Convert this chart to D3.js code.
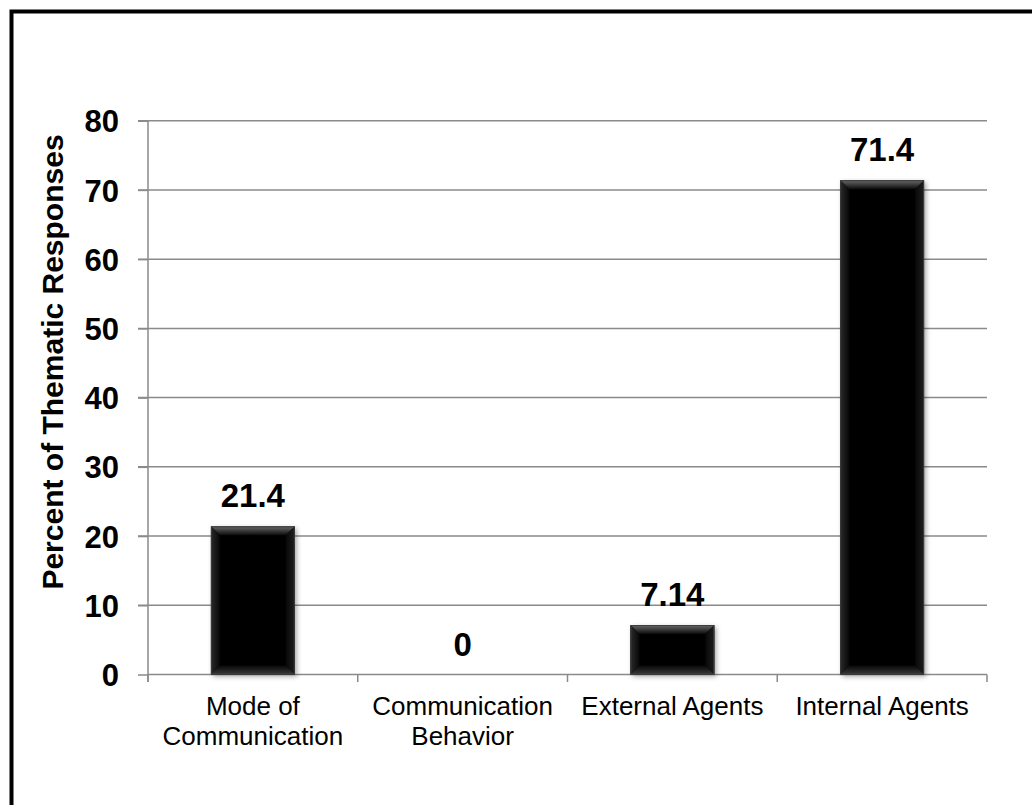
<!DOCTYPE html>
<html>
<head>
<meta charset="utf-8">
<script src="https://cdn.jsdelivr.net/npm/d3@7"></script>
<style>
html,body{margin:0;padding:0;background:#fff;}
svg{display:block;}
text{font-family:"Liberation Sans",Arial,sans-serif;}
</style>
</head>
<body>
<svg id="chart" width="1032" height="805"></svg>
<script>
const categories = [["Mode of","Communication"],["Communication","Behavior"],["External Agents"],["Internal Agents"]];
const categoryKeys = ["Mode of Communication","Communication Behavior","External Agents","Internal Agents"];
const values = [21.4, 0, 7.14, 71.4];
const valueLabels = ["21.4","0","7.14","71.4"];
const yTicks = [0,10,20,30,40,50,60,70,80];
const yTitle = "Percent of Thematic Responses";

(function(){
const svg = d3.select("#chart");
const pL = 148, pR = 987, pT = 120.7, pB = 674.5;

const defs = svg.append("defs");
const f = defs.append("filter").attr("id","shadow").attr("x","-20%").attr("y","-20%").attr("width","140%").attr("height","140%");
f.append("feDropShadow").attr("dx",2).attr("dy",2).attr("stdDeviation",2.5).attr("flood-color","#000").attr("flood-opacity",0.35);
const gTop = defs.append("linearGradient").attr("id","bevTop").attr("x1",0).attr("y1",0).attr("x2",0).attr("y2",1);
gTop.append("stop").attr("offset","0%").attr("stop-color","#6a6a6a");
gTop.append("stop").attr("offset","100%").attr("stop-color","#0a0a0a");
const gL = defs.append("linearGradient").attr("id","bevLeft").attr("x1",0).attr("y1",0).attr("x2",1).attr("y2",0);
gL.append("stop").attr("offset","0%").attr("stop-color","#2a2a2a");
gL.append("stop").attr("offset","100%").attr("stop-color","#080808");
const gR = defs.append("linearGradient").attr("id","bevRight").attr("x1",1).attr("y1",0).attr("x2",0).attr("y2",0);
gR.append("stop").attr("offset","0%").attr("stop-color","#1e1e1e");
gR.append("stop").attr("offset","100%").attr("stop-color","#080808");
const gB = defs.append("linearGradient").attr("id","bevBot").attr("x1",0).attr("y1",1).attr("x2",0).attr("y2",0);
gB.append("stop").attr("offset","0%").attr("stop-color","#3a3a3a");
gB.append("stop").attr("offset","100%").attr("stop-color","#080808");

// outer frame
svg.append("rect").attr("x",11.5).attr("y",11.5).attr("width",1200).attr("height",1200)
  .attr("fill","none").attr("stroke","#000").attr("stroke-width",4);

const x = d3.scaleBand().domain(categoryKeys).range([pL,pR]).padding(0);
const y = d3.scaleLinear().domain([0,80]).range([pB,pT]);

const gridColor = "#8a8a8a";

// gridlines
svg.append("g").selectAll("line").data(yTicks.filter(d=>d>0)).join("line")
  .attr("x1",pL-10).attr("x2",pR)
  .attr("y1",d=>y(d)).attr("y2",d=>y(d))
  .attr("stroke",gridColor).attr("stroke-width",1.5);

// y axis
const yAxis = svg.append("g").attr("transform",`translate(${pL},0)`)
  .call(d3.axisLeft(y).tickValues(yTicks).tickSize(10).tickPadding(19).tickFormat(d3.format("d")));
yAxis.select(".domain").remove();
yAxis.selectAll(".tick line").attr("stroke",gridColor).attr("stroke-width",1.5);
yAxis.selectAll(".tick text").attr("fill","#000").attr("font-size",31).attr("font-weight","bold")
  .attr("font-family","'Liberation Sans',Arial,sans-serif").attr("dy","0.36em");
svg.append("line").attr("x1",pL).attr("x2",pL).attr("y1",y(80)).attr("y2",pB+7.5)
  .attr("stroke",gridColor).attr("stroke-width",1.5);

// x axis
svg.append("line").attr("x1",pL).attr("x2",pR).attr("y1",pB).attr("y2",pB)
  .attr("stroke",gridColor).attr("stroke-width",1.5);
const bounds = categoryKeys.map(k=>x(k)+x.bandwidth()).concat([pL]);
svg.append("g").selectAll("line").data(bounds).join("line")
  .attr("x1",d=>d).attr("x2",d=>d).attr("y1",pB).attr("y2",pB+7.5)
  .attr("stroke",gridColor).attr("stroke-width",1.5);

// category labels
const catG = svg.append("g");
categoryKeys.forEach((k,i)=>{
  const t = catG.append("text").attr("x",x(k)+x.bandwidth()/2).attr("y",715)
    .attr("text-anchor","middle").attr("font-size",26).attr("fill","#000");
  categories[i].forEach((line,j)=>{
    t.append("tspan").attr("x",x(k)+x.bandwidth()/2).attr("dy",j===0?0:30).text(line);
  });
});

// bars
const bw = x.bandwidth()*0.4;
const bars = svg.append("g").selectAll("g").data(values.map((v,i)=>({v,k:categoryKeys[i],lab:valueLabels[i]}))).join("g");
bars.each(function(d){
  if (d.v <= 0) return;
  const g = d3.select(this);
  const x0 = x(d.k)+x.bandwidth()/2-bw/2, x1 = x0+bw;
  const y0 = y(d.v), y1 = y(0);
  const b = Math.min(9, (y1-y0)/3);
  g.append("rect").attr("x",x0).attr("y",y0).attr("width",bw).attr("height",y1-y0)
    .attr("fill","#060606").attr("filter","url(#shadow)");
  g.append("path").attr("d",`M${x0},${y0}L${x1},${y0}L${x1-b},${y0+b}L${x0+b},${y0+b}Z`).attr("fill","url(#bevTop)");
  g.append("path").attr("d",`M${x0},${y0}L${x0+b},${y0+b}L${x0+b},${y1-b}L${x0},${y1}Z`).attr("fill","url(#bevLeft)");
  g.append("path").attr("d",`M${x1},${y0}L${x1-b},${y0+b}L${x1-b},${y1-b}L${x1},${y1}Z`).attr("fill","url(#bevRight)");
  g.append("path").attr("d",`M${x0},${y1}L${x0+b},${y1-b}L${x1-b},${y1-b}L${x1},${y1}Z`).attr("fill","url(#bevBot)");
  g.append("rect").attr("x",x0+0.5).attr("y",y0+0.5).attr("width",bw-1).attr("height",y1-y0-1)
    .attr("fill","none").attr("stroke","#3c3c3c").attr("stroke-width",1);
});
// value labels
bars.append("text").attr("x",d=>x(d.k)+x.bandwidth()/2).attr("y",d=>y(d.v)-19)
  .attr("text-anchor","middle").attr("font-size",33).attr("font-weight","bold").attr("fill","#000")
  .text(d=>d.lab);

// y title
svg.append("text").attr("transform",`translate(63,362) rotate(-90)`)
  .attr("text-anchor","middle").attr("font-size",30).attr("font-weight","bold").attr("fill","#000")
  .text(yTitle);
})();
</script>
</body>
</html>
